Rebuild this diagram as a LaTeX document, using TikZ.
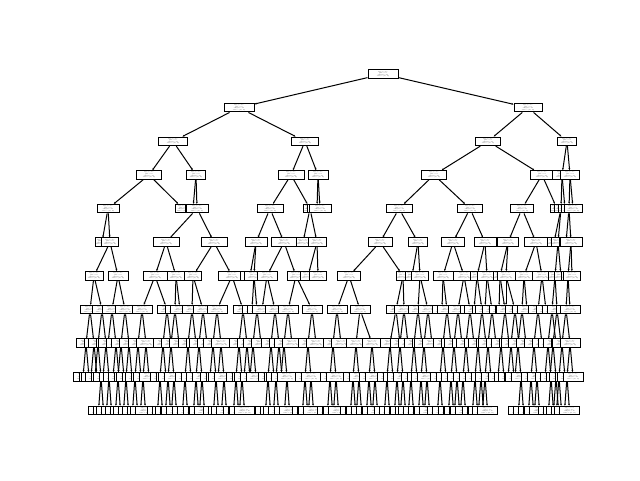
\documentclass[tikz,border=0pt]{standalone}
\usetikzlibrary{arrows.meta}

% text of one tree node
\newcommand{\tx}{x[0] <= 0.5\\gini = 0.5\\samples = 20\\value = [10, 10]}
% child #2 of node #1, shifted by #3, box width #4
\newcommand{\kid}[4]{%
  \path (#1) ++(#3,33.65) node[tnode, minimum width=#4] (#2) {\tx};
  \draw[edge] (#1) -- (#2);}

\begin{document}
\begin{tikzpicture}[x=1pt, y=-1pt,
  tnode/.style={draw, fill=white, line width=1pt, inner sep=0.4pt, minimum height=8.6pt,
    align=center, font=\fontsize{1.3}{1.55}\selectfont},
  edge/.style={line width=1pt, -{Stealth[length=2pt,width=1.8pt]}}]
\useasboundingbox (0,0) rectangle (640,480);

\node[tnode, minimum width=30] (n) at (383,74) {\tx};

% levels 1 to 6
\foreach \p/\c/\dx/\w in {n/nl/-144/30, n/nr/145/28}
  {\kid{\p}{\c}{\dx}{\w}}
\foreach \p/\c/\dx/\w in {nl/nll/-66/29, nl/nlr/66/27, nr/nrl/-40/25, nr/nrr/39/19}
  {\kid{\p}{\c}{\dx}{\w}}
\foreach \p/\c/\dx/\w in {nll/nlll/-24/25, nll/nllr/23/19, nlr/nlrl/-14/26, nlr/nlrr/13/20,
    nrl/nrll/-54/25, nrl/nrlr/54/24, nrr/nrrl/-5/19, nrr/nrrr/3/19}
  {\kid{\p}{\c}{\dx}{\w}}
\foreach \p/\c/\dx/\w in {nlll/nllll/-41/22, nlll/nlllr/34/16, nllr/nllrl/-3/16, nllr/nllrr/1/22,
    nlrl/nlrll/-21/26, nlrl/nlrlr/19/14, nlrr/nlrrl/-1/20, nlrr/nlrrr/2/22,
    nrll/nrlll/-35/26, nrll/nrllr/36/25, nrlr/nrlrl/-20/23, nrlr/nrlrr/15/10,
    nrrl/nrrll/-1/12, nrrl/nrrlr/3/14, nrrr/nrrrl/-1/16, nrrr/nrrrr/3/18}
  {\kid{\p}{\c}{\dx}{\w}}
\foreach \p/\c/\dx/\w in {nllll/nlllll/-6/12, nllll/nllllr/2/17, nllrr/nllrrl/-31/26, nllrr/nllrrr/17/26,
    nlrll/nlrlll/-14/22, nlrll/nlrllr/14/26, nlrlr/nlrlrl/-7/12, nlrlr/nlrlrr/7/18,
    nrlll/nrllll/-19/24, nrlll/nrlllr/19/19, nrllr/nrllrl/-17/23, nrllr/nrllrr/15/22,
    nrlrl/nrlrll/-14/21, nrlrl/nrlrlr/14/23, nrrll/nrrlll/-7/10, nrrll/nrrllr/-3/8,
    nrrrl/nrrrll/-3/10, nrrrl/nrrrlr/2/22}
  {\kid{\p}{\c}{\dx}{\w}}
\foreach \p/\c/\dx/\w in {nllllr/nllllrl/-16/18, nllllr/nllllrr/8/20, nllrrl/nllrrll/-11/24, nllrrl/nllrrlr/10/18,
    nllrrr/nllrrrl/-21/17, nllrrr/nllrrrr/18/27, nlrlll/nlrllll/-6/20, nlrlll/nlrlllr/-2/20,
    nlrllr/nlrllrl/-17/20, nlrllr/nlrllrr/12/18, nlrlrr/nlrlrrl/-9/16, nlrlrr/nlrlrrr/1/17,
    nrllll/nrlllll/-31/23, nrllll/nrllllr/23/10, nrlllr/nrlllrl/-6/8, nrlllr/nrlllrr/2/17,
    nrllrl/nrllrll/-10/20, nrllrl/nrllrlr/11/21, nrllrr/nrllrrl/-8/8, nrllrr/nrllrrr/2/20,
    nrlrll/nrlrlll/-8/6, nrlrll/nrlrllr/-2/18, nrlrlr/nrlrlrl/-12/18, nrlrlr/nrlrlrr/6/19,
    nrrllr/nrrllrl/-3/10, nrrllr/nrrllrr/3/10, nrrrlr/nrrrlrl/-3/12, nrrrlr/nrrrlrr/1/17}
  {\kid{\p}{\c}{\dx}{\w}}

% level 7
\foreach \p/\dl/\dr [count=\k] in {nllllrl/-4/8, nllllrr/-6/7, nllrrll/-13/12, nllrrlr/-1/4,
    nllrrrl/-1/10, nllrrrr/-15/11, nlrlllr/-2/3, nlrllrl/-5/8, nlrllrr/-8/16, nrlllll/-12/11,
    nrllllr/-7/1, nrlllrr/-2/8, nrllrll/-1/4, nrllrlr/-6/6, nrllrrl/-3/5, nrllrrr/-2/5,
    nrlrlll/-1/5, nrlrllr/0/9, nrlrlrl/-2/3, nrlrlrr/-4/4, nrrllrl/-3/2, nrrrlrl/-2/2}{
  \pgfmathtruncatemacro{\ka}{2*\k-1}
  \pgfmathtruncatemacro{\kb}{2*\k}
  \kid{\p}{g\ka}{\dl}{20}
  \kid{\p}{g\kb}{\dr}{20}
}

% level 8
\foreach \p/\dl/\dr [count=\k] in {g1/-4/4, g2/-4/4, g3/-4/4, g4/-4/4, g5/-4/4, g6/-4/4,
    g7/-4/4, g9/-4/4, g10/-4/4, g11/-4/4, g12/-4/4, g14/-4/4, g16/-4/4, g17/-4/4,
    g18/-4/4, g19/-4/4, g20/-4/12, g21/-6/4, g22/-4/4, g23/-4/4, g24/-4/4, g26/-4/4,
    g27/-4/4, g28/-4/4, g30/-4/4, g32/-4/4, g34/-4/4, g36/-4/4, g37/-4/4, g39/-4/4,
    g41/-4/4, g42/-4/4, g43/-4/4}{
  \pgfmathtruncatemacro{\ka}{2*\k-1}
  \pgfmathtruncatemacro{\kb}{2*\k}
  \kid{\p}{h\ka}{\dl}{20}
  \kid{\p}{h\kb}{\dr}{20}
}

% level 9
\foreach \p [count=\k] in {h1, h2, h3, h4, h6, h7, h8, h9, h10, h11, h13, h15, h17, h19,
    h20, h21, h22, h23, h25, h26, h27, h29, h31, h33, h34, h35, h37, h39, h41, h43,
    h45, h47, h49, h51, h53, h55, h57, h59, h61, h63, h65, h66}{
  \pgfmathtruncatemacro{\ka}{2*\k-1}
  \pgfmathtruncatemacro{\kb}{2*\k}
  \kid{\p}{i\ka}{-3}{20}
  \kid{\p}{i\kb}{3}{20}
}

% level 10
\foreach \p [count=\k] in {i6, i8, i11, i13, i15, i17, i19, i21, i22, i23, i25, i26, i28,
    i30, i31, i32, i37, i39, i42, i43, i44, i45, i46, i47, i48, i49, i50, i51, i53, i54,
    i55, i57, i58, i59, i61, i62, i63, i65, i66, i67, i74, i75, i76, i78, i80, i81, i83}{
  \pgfmathtruncatemacro{\ka}{2*\k-1}
  \pgfmathtruncatemacro{\kb}{2*\k}
  \kid{\p}{j\ka}{-2.5}{20}
  \kid{\p}{j\kb}{2.5}{20}
}
\end{tikzpicture}
\end{document}
